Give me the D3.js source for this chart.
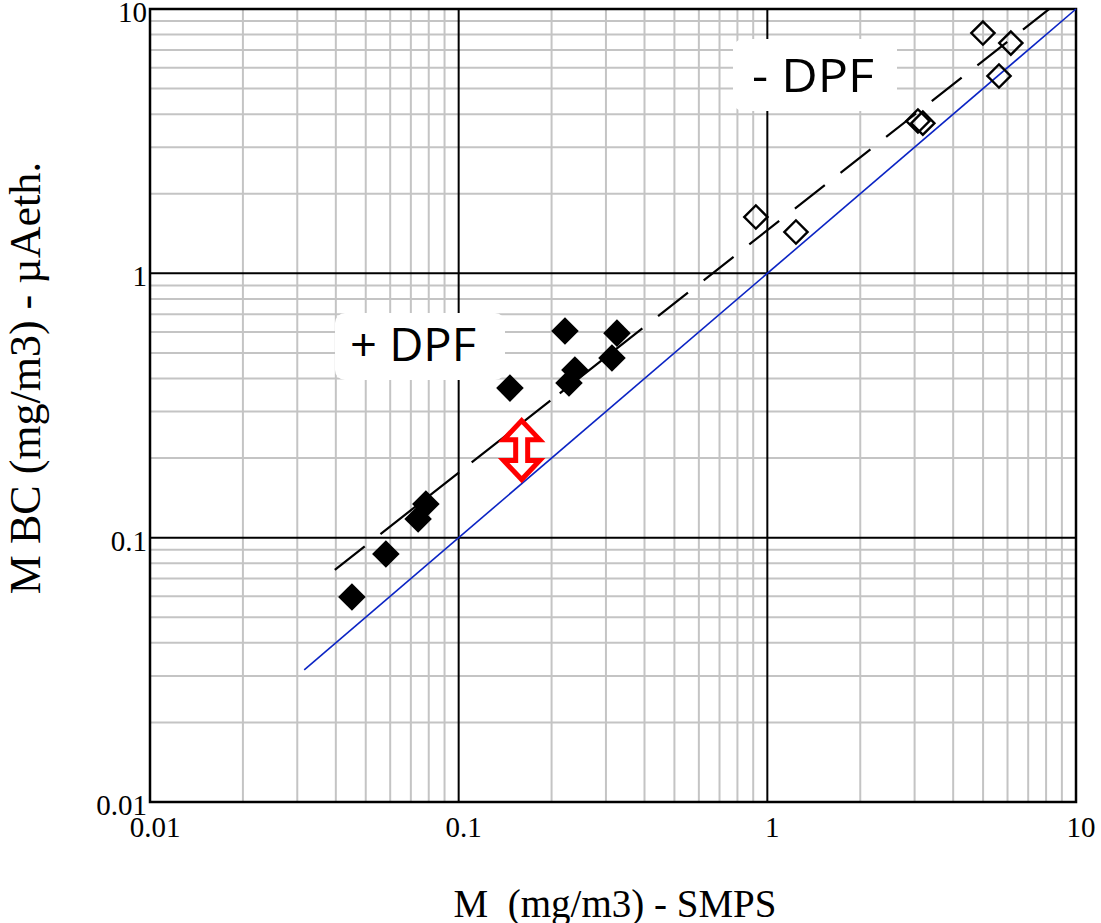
<!DOCTYPE html>
<html>
<head>
<meta charset="utf-8">
<script src="https://cdn.jsdelivr.net/npm/d3@7"></script>
<style>
  html, body { margin: 0; padding: 0; background: #fff; }
  svg { display: block; }
</style>
</head>
<body>
<script>
// ---- data ----
const axisTicks = [0.01, 0.1, 1, 10];
const axisTickLabels = ["0.01", "0.1", "1", "10"];

// + DPF (filled diamonds)
const withDpfX = [0.0451, 0.0581, 0.0739, 0.0783, 0.1466, 0.221, 0.2277, 0.238, 0.3138, 0.3257];
const withDpfY = [0.0596, 0.0867, 0.1176, 0.134, 0.368, 0.605, 0.3846, 0.4305, 0.478, 0.594];

// - DPF (open diamonds)
const noDpfX = [0.918, 1.238, 3.075, 3.19, 4.994, 6.15, 5.63];
const noDpfY = [1.633, 1.433, 3.77, 3.70, 8.11, 7.43, 5.58];

// power-law fit y = a * x^b
const fitCoef = 1.455;
const fitExp = 0.917;
const fitXRange = [0.0397, 8.2];

// 1:1 reference line
const identityRange = [0.0316, 10];

// gap annotation (double arrow)
const arrowX = 0.16;
const arrowYRange = [0.163, 0.282];

const xLabel = "M  (mg/m3) - SMPS";
const yLabel = "M BC (mg/m3) - µAeth.";

// ---- layout ----
const W = 1101, H = 923;
const L = 150, R = 1076, T = 9, B = 802;

const svg = d3.select("body").append("svg").attr("width", W).attr("height", H);
svg.append("rect").attr("width", W).attr("height", H).attr("fill", "#fff");

const x = d3.scaleLog().domain([0.01, 10]).range([L, R]);
const y = d3.scaleLog().domain([0.01, 10]).range([B, T]);

// minor grid values
const minor = [];
[0.01, 0.1, 1].forEach(d => { for (let k = 2; k <= 9; k++) minor.push(d * k); });

const grid = svg.append("g");
grid.selectAll(".mx").data(minor).join("line")
  .attr("x1", d => x(d)).attr("x2", d => x(d)).attr("y1", T).attr("y2", B)
  .attr("stroke", "#c4c4c4").attr("stroke-width", 2);
grid.selectAll(".my").data(minor).join("line")
  .attr("y1", d => y(d)).attr("y2", d => y(d)).attr("x1", L).attr("x2", R)
  .attr("stroke", "#c4c4c4").attr("stroke-width", 2);

const major = axisTicks.slice(1, -1);
grid.selectAll(".Mx").data(major).join("line")
  .attr("x1", d => x(d)).attr("x2", d => x(d)).attr("y1", T).attr("y2", B)
  .attr("stroke", "#000").attr("stroke-width", 2);
grid.selectAll(".My").data(major).join("line")
  .attr("y1", d => y(d)).attr("y2", d => y(d)).attr("x1", L).attr("x2", R)
  .attr("stroke", "#000").attr("stroke-width", 2);

// label boxes (cover the grid)
function labelBox(cx0, cx1, cyTop, cyBot, text, tx, tlen) {
  const g = svg.append("g");
  g.append("rect").attr("x", cx0).attr("y", cyTop).attr("width", cx1 - cx0).attr("height", cyBot - cyTop)
    .attr("rx", 10).attr("fill", "#fff");
  g.append("text").attr("x", tx).attr("y", cyBot - 19)
    .attr("font-family", "'Open Sans', 'Noto Sans', sans-serif").attr("font-size", 46)
    .attr("textLength", tlen).attr("lengthAdjust", "spacingAndGlyphs")
    .style("white-space", "pre")
    .attr("fill", "#000").text(text);
}

// frame
svg.append("rect").attr("x", L).attr("y", T).attr("width", R - L).attr("height", B - T)
  .attr("fill", "none").attr("stroke", "#000").attr("stroke-width", 2.5);

labelBox(335, 505, 313, 380, "+ DPF", 350, 126);
labelBox(733, 897, 39, 111, "- DPF", 752, 122);

// 1:1 line
svg.append("line")
  .attr("x1", x(identityRange[0])).attr("y1", y(identityRange[0]))
  .attr("x2", x(identityRange[1])).attr("y2", y(identityRange[1]))
  .attr("stroke", "#0b24c4").attr("stroke-width", 1.6);

// fit line
const fitPts = fitXRange.map(v => [x(v), y(fitCoef * Math.pow(v, fitExp))]);
let dash = [38, 20, 100, 16, 100, 12, 105, 20];
for (let i = 0; i < 10; i++) dash.push(38, 20);
dash.push(38, 2000);
svg.append("path").attr("d", d3.line()(fitPts))
  .attr("fill", "none").attr("stroke", "#000").attr("stroke-width", 2.2)
  .attr("stroke-dasharray", dash.join(","));

// markers
const diamond = d3.symbol().type(d3.symbolSquare);
svg.append("g").selectAll("path").data(withDpfX.map((v, i) => [v, withDpfY[i]])).join("path")
  .attr("d", diamond.size(380)())
  .attr("transform", d => `translate(${x(d[0])},${y(d[1])}) rotate(45)`)
  .attr("fill", "#000");
svg.append("g").selectAll("path").data(noDpfX.map((v, i) => [v, noDpfY[i]])).join("path")
  .attr("d", diamond.size(270)())
  .attr("transform", d => `translate(${x(d[0])},${y(d[1])}) rotate(45)`)
  .attr("fill", "none").attr("stroke", "#000").attr("stroke-width", 2.4);

// red double arrow
{
  const cx = x(arrowX);
  const yb = y(arrowYRange[0]) - 2, yt = y(arrowYRange[1]) + 2;
  const sw = 6, hw = 18, hh = 19;
  const p = [
    [cx, yt], [cx + hw, yt + hh], [cx + sw, yt + hh], [cx + sw, yb - hh], [cx + hw, yb - hh],
    [cx, yb], [cx - hw, yb - hh], [cx - sw, yb - hh], [cx - sw, yt + hh], [cx - hw, yt + hh]
  ];
  svg.append("path").attr("d", d3.line()(p) + "Z")
    .attr("fill", "#fff").attr("stroke", "#ff0000").attr("stroke-width", 5)
    .attr("stroke-linejoin", "miter");
}

// tick labels
const serif = "'Liberation Serif', 'Times New Roman', serif";
svg.append("g").selectAll("text").data(axisTicks).join("text")
  .attr("x", d => x(d) + 5).attr("y", 837)
  .attr("text-anchor", "middle").attr("font-family", serif).attr("font-size", 29)
  .text((d, i) => axisTickLabels[i]);
svg.append("g").selectAll("text").data(axisTicks).join("text")
  .attr("x", 147).attr("y", d => y(d) + 13)
  .attr("text-anchor", "end").attr("font-family", serif).attr("font-size", 29)
  .text((d, i) => axisTickLabels[i]);

// axis titles
svg.append("text").attr("x", 615).attr("y", 917).attr("text-anchor", "middle")
  .attr("font-family", serif).attr("font-size", 39).style("white-space", "pre").text(xLabel);
svg.append("text").attr("transform", "translate(40,378) rotate(-90)").attr("text-anchor", "middle")
  .attr("font-family", serif).attr("font-size", 44).text(yLabel);
</script>
</body>
</html>
